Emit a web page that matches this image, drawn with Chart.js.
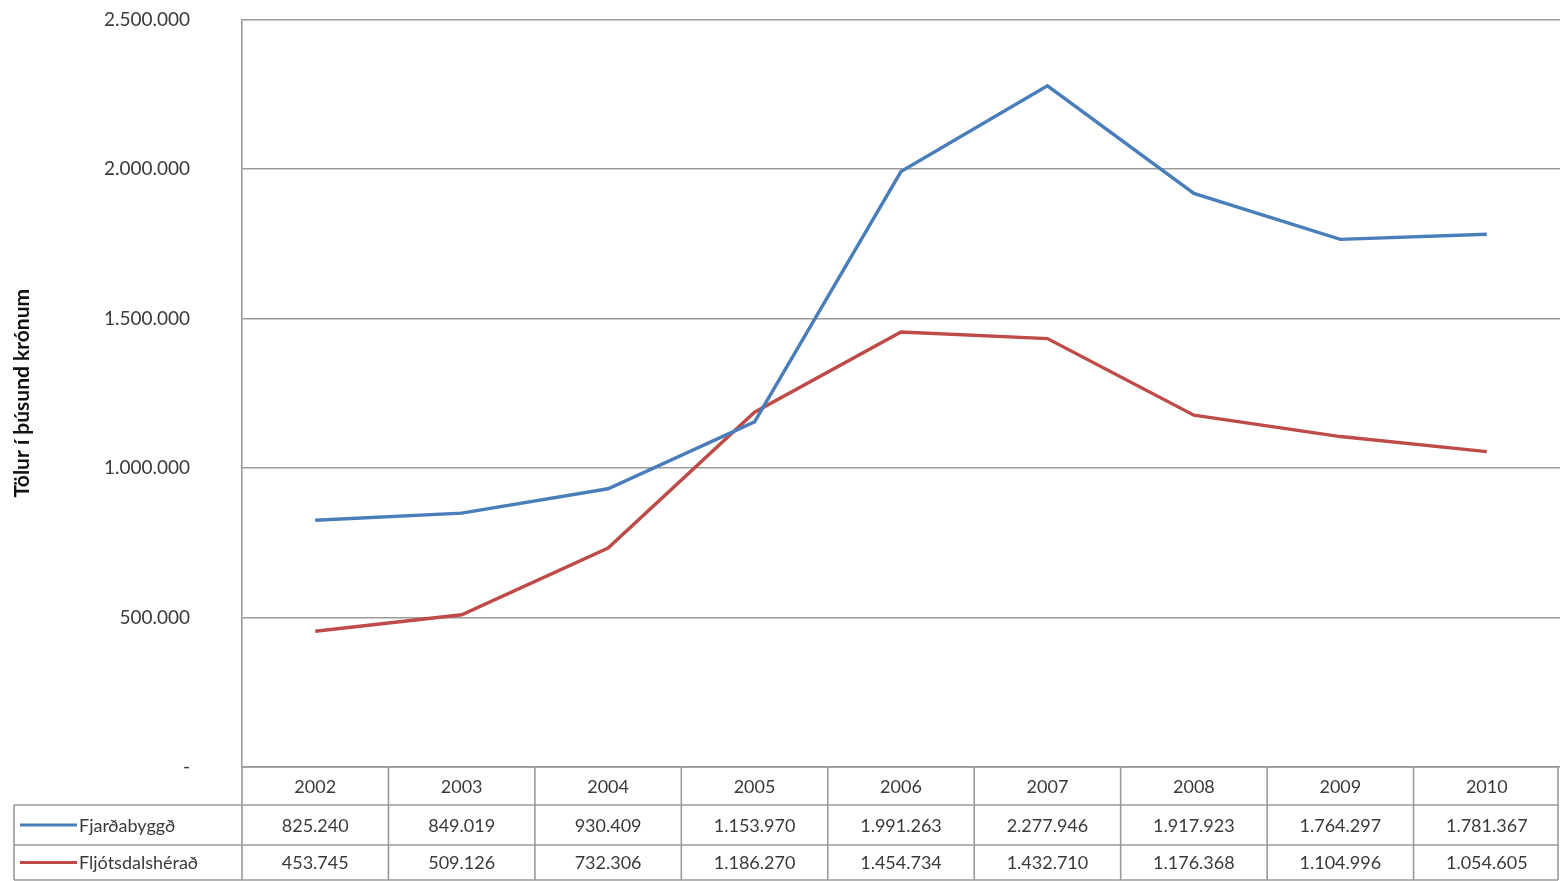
<!DOCTYPE html>
<html>
<head>
<meta charset="utf-8">
<script src="https://cdn.jsdelivr.net/npm/chart.js@4/dist/chart.umd.min.js"></script>
<style>
  html, body { margin: 0; padding: 0; background: #fff; }
  #wrap { width: 1560px; height: 881px; }
</style>
</head>
<body>
<div id="wrap"><canvas id="lineChart" width="1560" height="881"></canvas></div>
<script>
// Data ---------------------------------------------------------------------
const years = ['2002', '2003', '2004', '2005', '2006', '2007', '2008', '2009', '2010'];
const fjardabyggd = [825240, 849019, 930409, 1153970, 1991263, 2277946, 1917923, 1764297, 1781367];
const fljotsdalsherad = [453745, 509126, 732306, 1186270, 1454734, 1432710, 1176368, 1104996, 1054605];
const yTicks = [0, 500000, 1000000, 1500000, 2000000, 2500000];
const seriesNames = ['Fjarðabyggð', 'Fljótsdalshérað'];
const seriesColors = ['#4A7EBB', '#BE4B48'];

const FONT = 'Lato, "Open Sans", sans-serif';
const GRID = '#9a9a9a';
const TEXT = '#3a3a3a';

// dotted thousands, "-" for zero like the Excel accounting format
function fmt(n) {
    if (n === 0) return '-';
    return String(n).replace(/\B(?=(\d{3})+(?!\d))/g, '.');
}

// data table drawn under the plot, columns taken from the x scale
const dataTable = {
    id: 'dataTable',
    afterDraw(chart) {
        const ctx = chart.ctx;
        const x = chart.scales.x;
        const area = chart.chartArea;
        const colW = x.width / years.length;
        const left = area.left;
        const right = area.left + colW * years.length - 2;
        const rows = [area.bottom, area.bottom + 38, area.bottom + 78, chart.height - 1];
        const legendLeft = 14;

        ctx.save();
        ctx.strokeStyle = GRID;
        ctx.lineWidth = 1.6;
        ctx.beginPath();
        // horizontal lines
        ctx.moveTo(left, rows[0]); ctx.lineTo(right, rows[0]);
        for (let r = 1; r < rows.length; r++) {
            ctx.moveTo(legendLeft, rows[r]); ctx.lineTo(right, rows[r]);
        }
        // vertical lines
        ctx.moveTo(legendLeft, rows[1]); ctx.lineTo(legendLeft, rows[3]);
        for (let i = 0; i <= years.length; i++) {
            const xx = i === years.length ? right : left + colW * i;
            ctx.moveTo(xx, rows[0]); ctx.lineTo(xx, rows[3]);
        }
        ctx.stroke();

        ctx.fillStyle = TEXT;
        ctx.font = '18px ' + FONT;
        ctx.textAlign = 'center';
        ctx.textBaseline = 'middle';
        years.forEach((y, i) => {
            const cx = x.getPixelForValue(i);
            ctx.fillText(y, cx, (rows[0] + rows[1]) / 2 + 1);
            ctx.fillText(fmt(fjardabyggd[i]), cx, (rows[1] + rows[2]) / 2 + 1);
            ctx.fillText(fmt(fljotsdalsherad[i]), cx, (rows[2] + rows[3]) / 2 + 1);
        });

        // legend keys in the first column
        seriesNames.forEach((name, s) => {
            const cy = (rows[s + 1] + rows[s + 2]) / 2;
            ctx.strokeStyle = seriesColors[s];
            ctx.lineWidth = 3;
            ctx.beginPath();
            ctx.moveTo(20, cy); ctx.lineTo(77, cy);
            ctx.stroke();
            ctx.fillStyle = TEXT;
            ctx.textAlign = 'left';
            ctx.fillText(name, 79, cy + 1);
        });
        ctx.restore();
    }
};

const lineCtx = document.getElementById('lineChart').getContext('2d');
new Chart(lineCtx, {
    type: 'line',
    data: {
        labels: years,
        datasets: [{
            label: seriesNames[0],
            data: fjardabyggd,
            borderColor: seriesColors[0],
            backgroundColor: seriesColors[0],
            borderWidth: 3.4,
            pointRadius: 0,
            tension: 0
        }, {
            label: seriesNames[1],
            data: fljotsdalsherad,
            borderColor: seriesColors[1],
            backgroundColor: seriesColors[1],
            borderWidth: 3.4,
            pointRadius: 0,
            tension: 0
        }]
    },
    options: {
        responsive: false,
        animation: false,
        layout: { padding: { top: 0, right: 0, bottom: 114, left: 0 } },
        plugins: { legend: { display: false }, tooltip: { enabled: false } },
        scales: {
            x: {
                display: false,
                offset: true
            },
            y: {
                min: 0,
                max: 2500000,
                afterBuildTicks(scale) {
                    scale.ticks = yTicks.map(v => ({ value: v }));
                },
                afterFit(scale) { scale.width = 242; },
                grid: { color: GRID, lineWidth: 1.6, drawTicks: true, tickLength: 44, tickColor: 'rgba(0,0,0,0)' },
                border: { color: GRID, width: 1.6 },
                ticks: {
                    color: TEXT,
                    font: { family: FONT, size: 19 },
                    padding: 8,
                    callback: v => fmt(v)
                },
                title: {
                    display: true,
                    text: 'Tölur í þúsund krónum',
                    color: '#111',
                    font: { family: FONT, size: 21, weight: 'bold' },
                    padding: { top: 10, bottom: 0 }
                }
            }
        }
    },
    plugins: [dataTable]
});
</script>
</body>
</html>
